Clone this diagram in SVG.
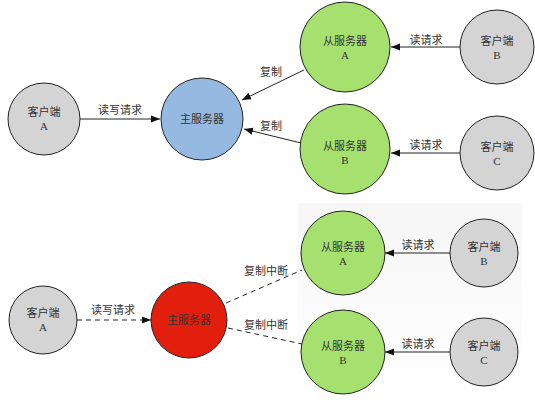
<svg xmlns="http://www.w3.org/2000/svg" width="535" height="400" viewBox="0 0 535 400">
<defs>
<style>
.n{stroke:#222;stroke-width:1}
.gray{fill:#d4d4d4}
.blue{fill:#95b9e0}
.green{fill:#a6e16f}
.red{fill:#e21f0c}
.t{font-family:"Noto Sans CJK SC","Noto Sans",sans-serif;font-size:11px;fill:#333;text-anchor:middle}
.l{font-family:"Liberation Serif",serif;font-size:11px;fill:#333;text-anchor:middle}
.e{stroke:#222;stroke-width:1;fill:none}
.d{stroke-dasharray:5,4}
</style>
<marker id="ah" viewBox="0 0 10 10" refX="10" refY="5" markerWidth="9" markerHeight="9" markerUnits="userSpaceOnUse" orient="auto">
<path d="M0,1 L10,5 L0,9 Z" fill="#111"/>
</marker>
<linearGradient id="bg" x1="0" y1="0" x2="0" y2="1">
<stop offset="0" stop-color="#f6f6f6"/>
<stop offset="0.6" stop-color="#fbfbfb"/>
<stop offset="1" stop-color="#ffffff"/>
</linearGradient>
</defs>
<rect x="298" y="203" width="224" height="190" fill="url(#bg)"/>
<g id="connectors">
<line class="e" x1="80" y1="119" x2="160" y2="119" marker-end="url(#ah)"/>
<text class="t" x="120" y="114">读写请求</text>
<line class="e" x1="304" y1="70" x2="242" y2="100" marker-end="url(#ah)"/>
<text class="t" x="271" y="76">复制</text>
<line class="e" x1="301" y1="143" x2="244" y2="129" marker-end="url(#ah)"/>
<text class="t" x="271" y="130">复制</text>
<line class="e" x1="460" y1="47" x2="391" y2="47" marker-end="url(#ah)"/>
<text class="t" x="426" y="44">读请求</text>
<line class="e" x1="460" y1="153" x2="391" y2="153" marker-end="url(#ah)"/>
<text class="t" x="426" y="149">读请求</text>
<line class="e d" x1="77" y1="320" x2="151" y2="320" marker-end="url(#ah)"/>
<text class="t" x="113" y="314">读写请求</text>
<line class="e d" x1="226" y1="303" x2="302" y2="270"/>
<text class="t" x="266" y="275">复制中断</text>
<line class="e d" x1="228" y1="328" x2="302" y2="344"/>
<text class="t" x="266" y="329">复制中断</text>
<line class="e" x1="450" y1="253" x2="385" y2="253" marker-end="url(#ah)"/>
<text class="t" x="418" y="249">读请求</text>
<line class="e" x1="450" y1="352" x2="385" y2="352" marker-end="url(#ah)"/>
<text class="t" x="418" y="348">读请求</text>
</g>
<g id="clientA1"><circle class="n gray" cx="44" cy="119" r="36"/><text class="t" x="44" y="116">客户端</text><text class="l" x="44" y="130">A</text></g>
<g id="master1"><circle class="n blue" cx="202" cy="119" r="41"/><text class="t" x="202" y="123">主服务器</text></g>
<g id="slaveA1"><circle class="n green" cx="345" cy="47" r="45"/><text class="t" x="345" y="45">从服务器</text><text class="l" x="345" y="59">A</text></g>
<g id="clientB1"><circle class="n gray" cx="497" cy="47" r="37"/><text class="t" x="497" y="45">客户端</text><text class="l" x="497" y="59">B</text></g>
<g id="slaveB1"><circle class="n green" cx="345" cy="149" r="45"/><text class="t" x="345" y="150">从服务器</text><text class="l" x="345" y="164">B</text></g>
<g id="clientC1"><circle class="n gray" cx="497" cy="153" r="37"/><text class="t" x="497" y="151">客户端</text><text class="l" x="497" y="165">C</text></g>
<g id="clientA2"><circle class="n gray" cx="43" cy="320" r="34"/><text class="t" x="43" y="317">客户端</text><text class="l" x="43" y="331">A</text></g>
<g id="master2"><circle class="n red" cx="189" cy="320" r="38"/><text class="t" x="189" y="324">主服务器</text></g>
<g id="slaveA2"><circle class="n green" cx="343" cy="253" r="42"/><text class="t" x="343" y="251">从服务器</text><text class="l" x="343" y="265">A</text></g>
<g id="clientB2"><circle class="n gray" cx="484" cy="253" r="34"/><text class="t" x="484" y="251">客户端</text><text class="l" x="484" y="265">B</text></g>
<g id="slaveB2"><circle class="n green" cx="343" cy="352" r="42"/><text class="t" x="343" y="350">从服务器</text><text class="l" x="343" y="364">B</text></g>
<g id="clientC2"><circle class="n gray" cx="484" cy="352" r="34"/><text class="t" x="484" y="350">客户端</text><text class="l" x="484" y="364">C</text></g>
</svg>
